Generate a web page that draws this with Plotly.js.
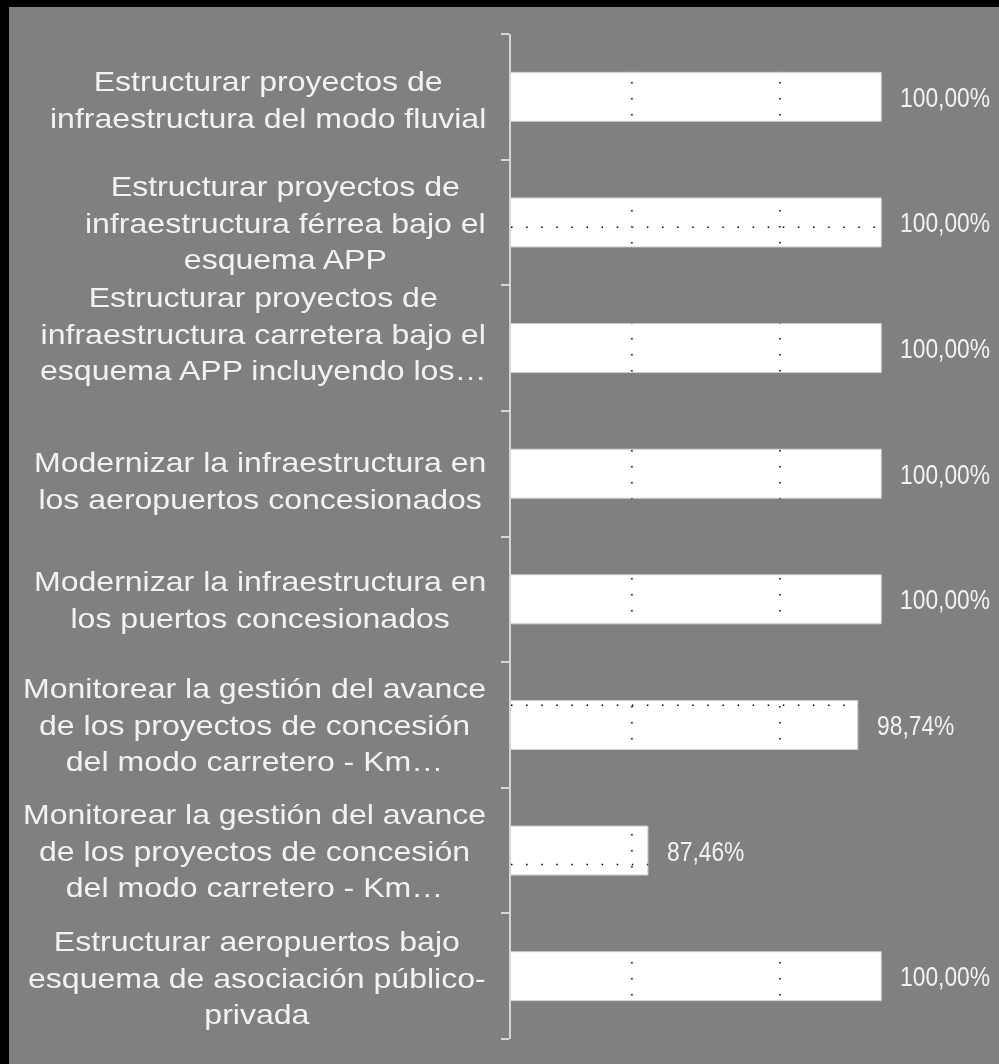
<!DOCTYPE html>
<html>
<head>
<meta charset="utf-8">
<script src="https://cdn.plot.ly/plotly-3.0.1.min.js"></script>
<style>
  html, body { margin: 0; padding: 0; background: #000; width: 999px; height: 1064px; overflow: hidden; }
  #chart { position: absolute; left: 9px; top: 7px; width: 990px; height: 1057px; }
  text.annotation-text { transform-box: fill-box; transform-origin: 50% 50%; transform: scaleX(1.145); }
  text.annotation-text[style*="Narrow"] { transform: scaleX(0.845); }
  .shapelayer path { mix-blend-mode: difference; }
</style>
</head>
<body>
<div id="chart"></div>
<script>
// ---- data ----
const categories = [
  "Estructurar proyectos de<br>infraestructura del modo fluvial",
  "Estructurar proyectos de<br>infraestructura férrea bajo el<br>esquema APP",
  "Estructurar proyectos de<br>infraestructura carretera bajo el<br>esquema APP incluyendo los…",
  "Modernizar la infraestructura en<br>los aeropuertos concesionados",
  "Modernizar la infraestructura en<br>los puertos concesionados",
  "Monitorear la gestión del avance<br>de los proyectos de concesión<br>del modo carretero - Km…",
  "Monitorear la gestión del avance<br>de los proyectos de concesión<br>del modo carretero - Km…",
  "Estructurar aeropuertos bajo<br>esquema de asociación público-<br>privada"
];
const values = [100, 100, 100, 100, 100, 98.74, 87.46, 100];
const valueLabels = ["100,00%", "100,00%", "100,00%", "100,00%", "100,00%", "98,74%", "87,46%", "100,00%"];
const gridTicks = [86.6, 94.55, 102.5];

// ---- chart ----
const xRange = [80.1, 106.33];
const positions = categories.map((_, i) => i);
const boundaries = categories.map((_, i) => i - 0.5).concat([categories.length - 0.5]);

const labelFont = { family: '"Liberation Sans", Arial, sans-serif', size: 28, color: '#f2f2f2' };
const valueFont = { family: '"Liberation Sans Narrow", "Liberation Sans", Arial, sans-serif', size: 27, color: '#f2f2f2' };

// small vertical nudges of the category label blocks, as placed in the original
const labelShift = { 0: -3, 2: 15, 3: -7, 7: -1 };

const annotations = [];
categories.forEach((c, i) => {
  annotations.push({
    xref: 'paper', x: 0, xanchor: 'right', xshift: -23,
    yref: 'y', y: positions[i], yanchor: 'middle', yshift: labelShift[i] || 0,
    text: c, showarrow: false, align: 'center', font: labelFont
  });
});
values.forEach((v, i) => {
  annotations.push({
    xref: 'x', x: v, xanchor: 'left', xshift: 17,
    yref: 'y', y: positions[i], yanchor: 'middle',
    text: valueLabels[i], showarrow: false, font: valueFont
  });
});

const shapes = [];
// vertical dotted grid lines (inverted-colour dots)
gridTicks.forEach(g => {
  const xp = (g - xRange[0]) / (xRange[1] - xRange[0]);
  shapes.push({
    type: 'line', layer: 'above', xref: 'paper', x0: xp, x1: xp, yref: 'paper', y0: 1, y1: 0,
    line: { color: '#ffffff', width: 1.5, dash: '1.5px,14.5px' }
  });
});
// horizontal dotted lines (inverted-colour dots)
for (let k = 0; k < 7; k++) {
  const yp = 1 - (34 + 159.3 * k) / 1005;
  shapes.push({
    type: 'line', layer: 'above', xref: 'paper', x0: 0, x1: 1, yref: 'paper', y0: yp, y1: yp,
    line: { color: '#ffffff', width: 1.5, dash: '1.5px,13.6px' }
  });
}

const trace = {
  type: 'bar', orientation: 'h',
  x: values, y: positions, width: 0.39,
  marker: { color: '#ffffff', line: { color: '#cfcfcf', width: 1 } },
  hoverinfo: 'skip'
};

const layout = {
  width: 990, height: 1057,
  margin: { l: 502, r: 0, t: 27, b: 25, pad: 0 },
  paper_bgcolor: '#808080', plot_bgcolor: '#808080',
  showlegend: false,
  xaxis: { range: xRange, showgrid: false, zeroline: false, showticklabels: false, showline: false, ticks: '' },
  yaxis: {
    range: [categories.length - 0.5, -0.5], showgrid: false, zeroline: false, showticklabels: false,
    showline: true, linecolor: '#d6d6d6', linewidth: 2,
    ticks: 'outside', tickmode: 'array', tickvals: boundaries, ticklen: 8, tickwidth: 2, tickcolor: '#d6d6d6'
  },
  annotations: annotations,
  shapes: shapes
};

Plotly.newPlot('chart', [trace], layout, { staticPlot: true, displayModeBar: false });
</script>
</body>
</html>
